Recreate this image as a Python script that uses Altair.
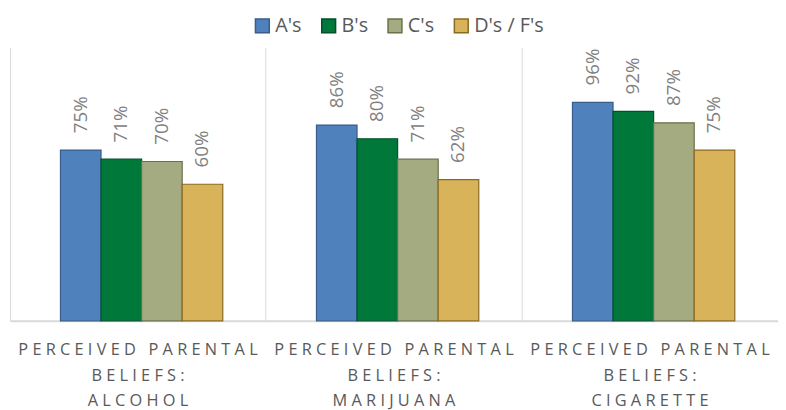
import altair as alt
import pandas as pd

categories = ["PERCEIVED PARENTAL|BELIEFS:|ALCOHOL",
              "PERCEIVED PARENTAL|BELIEFS:|MARIJUANA",
              "PERCEIVED PARENTAL|BELIEFS:|CIGARETTE"]
series = ["A's", "B's", "C's", "D's / F's"]
values_a = [75, 86, 96]
values_b = [71, 80, 92]
values_c = [70, 71, 87]
values_d = [60, 62, 75]

fills = ["#4f81bd", "#00783a", "#a5ab81", "#d9b35a"]
strokes = ["#385d8a", "#00502a", "#6b6f4c", "#8a6a20"]

rows = []
for s, vals in zip(series, [values_a, values_b, values_c, values_d]):
    for c, v in zip(categories, vals):
        rows.append({"cat": c, "series": s, "v": v})
df = pd.DataFrame(rows)

FONT = "Open Sans"

# letter-spaced label: non-breaking space between letters, three between words
label_expr = ("split(join(split(join(split(datum.label, ''), '\u00a0'), "
              "'\u00a0 \u00a0'), '\u00a0\u00a0\u00a0'), '\u00a0|\u00a0')")

x = alt.X("cat:N", sort=categories, title=None,
          scale=alt.Scale(paddingInner=0, paddingOuter=0),
          axis=alt.Axis(labelExpr=label_expr, labelAngle=0,
                        labelFontSize=16.5, labelColor="#595959", labelFont=FONT,
                        labelLineHeight=26, labelPadding=21, labelBaseline="top",
                        labelLimit=0, labelOverlap=False,
                        ticks=False, grid=True, gridColor="#d9d9d9", gridWidth=1,
                        bandPosition=0, domainColor="#d9d9d9", domainWidth=2))
xo = alt.XOffset("series:N", sort=series,
                 scale=alt.Scale(range=[51, 215], paddingOuter=0, paddingInner=0))
y = alt.Y("v:Q", scale=alt.Scale(domain=[0, 120]), axis=None)

base = alt.Chart(df).encode(x=x, xOffset=xo, y=y)

bars = base.mark_bar(strokeWidth=1.2).encode(
    fill=alt.Fill("series:N", sort=series, scale=alt.Scale(domain=series, range=fills),
                  legend=alt.Legend(title=None, orient="none", direction="horizontal",
                                    legendX=245, legendY=-32, padding=0,
                                    symbolType="square", symbolSize=196,
                                    symbolStrokeWidth=1.5, labelFontSize=20,
                                    labelFont=FONT, labelColor="#595959",
                                    columnPadding=17, labelOffset=3)),
    stroke=alt.Stroke("series:N", sort=series,
                      scale=alt.Scale(domain=series, range=strokes)),
)

labels = base.transform_calculate(lab="datum.v + '%'").mark_text(
    angle=270, align="left", baseline="middle", dx=17,
    fontSize=19, font=FONT, color="#808080"
).encode(text="lab:N")

chart = (bars + labels).properties(
    width=776, height=276,
    autosize=alt.AutoSizeParams(type="none"),
    padding={"left": 2, "top": 38, "right": 0, "bottom": 88},
).configure_view(stroke=None)

chart.save("out.html", embed_options={"renderer": "svg", "actions": False})
